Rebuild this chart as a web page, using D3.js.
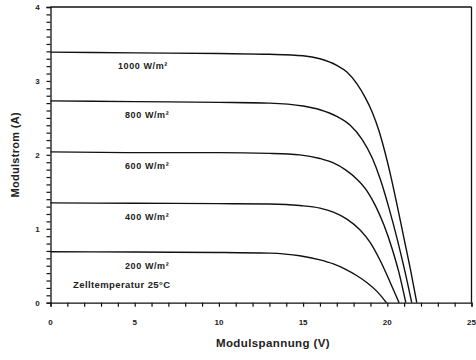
<!DOCTYPE html>
<html><head><meta charset="utf-8">
<script src="https://cdn.jsdelivr.net/npm/d3@7"></script>
<style>body{margin:0;background:#fff}svg{display:block}text{font-family:"Liberation Sans",Arial,sans-serif;fill:#222}</style>
</head><body>
<script>
const irradiance = ["1000 W/m²","800 W/m²","600 W/m²","400 W/m²","200 W/m²"];
const curve1000 = [[0,3.39],[5,3.38],[10,3.37],[13,3.36],[15,3.34],[16,3.30],[17,3.21],[17.6,3.12],[18.2,2.96],[18.7,2.77],[19.1,2.58],[19.5,2.33],[19.8,2.09],[20.2,1.72],[20.6,1.30],[21.0,0.86],[21.4,0.42],[21.75,0]];
const curve800 = [[0,2.73],[5,2.72],[10,2.71],[13,2.70],[15,2.66],[16,2.61],[17,2.52],[17.8,2.40],[18.5,2.21],[19.1,1.96],[19.6,1.66],[20.1,1.28],[20.6,0.85],[21.0,0.47],[21.45,0]];
const curve600 = [[0,2.04],[5,2.03],[10,2.03],[13,2.02],[14.8,2.0],[16,1.95],[16.8,1.89],[17.5,1.80],[18.2,1.67],[18.8,1.51],[19.3,1.31],[19.8,1.05],[20.3,0.72],[20.7,0.40],[21.1,0]];
const curve400 = [[0,1.35],[5,1.345],[10,1.34],[13,1.335],[14.8,1.315],[16,1.28],[16.8,1.225],[17.6,1.13],[18.4,0.98],[19.0,0.81],[19.6,0.56],[20.2,0.26],[20.7,0]];
const curve200 = [[0,0.69],[5,0.685],[10,0.68],[13,0.67],[14.8,0.635],[16,0.58],[16.8,0.525],[17.5,0.455],[18.2,0.365],[18.8,0.27],[19.4,0.15],[19.95,0]];
const curves = [curve1000, curve800, curve600, curve400, curve200];
const xTicks = [0,5,10,15,20,25];
const yTicks = [0,1,2,3,4];
const note = "Zelltemperatur 25°C";
const xTitle = "Modulspannung (V)";
const yTitle = "Modulstrom (A)";

const W = 476, H = 360;
const m = {l:50.5, r:4.5, t:7, b:57.3};
const svg = d3.select("body").append("svg").attr("width", W).attr("height", H);
const x = d3.scaleLinear().domain([0,25]).range([m.l, W-m.r]);
const y = d3.scaleLinear().domain([0,4]).range([H-m.b, m.t]);

svg.append("line").attr("x1",x(0)).attr("x2",x(25)).attr("y1",y(4)).attr("y2",y(4)).attr("stroke","#111").attr("stroke-width",1.3);
svg.append("line").attr("x1",x(25)).attr("x2",x(25)).attr("y1",y(4)).attr("y2",y(0)).attr("stroke","#111").attr("stroke-width",1.3);

const xa = svg.append("g").attr("transform",`translate(0,${y(0)})`)
  .call(d3.axisBottom(x).tickValues(d3.range(0,26,1)).tickSize(4).tickFormat(""));
const ya = svg.append("g").attr("transform",`translate(${x(0)},0)`)
  .call(d3.axisLeft(y).tickValues(d3.range(0,41,1).map(d=>d/10)).tickSize(4).tickFormat(""));
[xa,ya].forEach(g=>{g.select(".domain").attr("stroke","#111").attr("stroke-width",1.3);g.selectAll(".tick line").attr("stroke","#111").attr("stroke-width",1.2);});

svg.selectAll(".xl").data(xTicks).enter().append("text").attr("x",d=>x(d)).attr("y",y(0)+22)
  .attr("text-anchor","middle").attr("font-size",8).attr("font-weight","bold").text(d=>d);
svg.selectAll(".yl").data(yTicks).enter().append("text").attr("x",x(0)-13).attr("y",d=>y(d)+3)
  .attr("text-anchor","middle").attr("font-size",8).attr("font-weight","bold").text(d=>d);

const line = d3.line().x(d=>x(d[0])).y(d=>y(d[1])).curve(d3.curveMonotoneX);
svg.selectAll(".c").data(curves).enter().append("path").attr("d",line)
  .attr("fill","none").attr("stroke","#111").attr("stroke-width",1.4);

svg.selectAll(".lab").data(irradiance).enter().append("text")
  .attr("x",(d,i)=> i===0 ? 118 : 125)
  .attr("y",(d,i)=> y(curves[i][0][1]) + 17)
  .attr("font-size",9).attr("font-weight","bold").attr("letter-spacing",0.6).text(d=>d);

svg.append("text").attr("x",73).attr("y",288).attr("font-size",9.5).attr("font-weight","bold").attr("letter-spacing",0.4).text(note);
svg.append("text").attr("x",273).attr("y",347).attr("text-anchor","middle")
  .attr("font-size",11.5).attr("font-weight","bold").attr("letter-spacing",0.4).text(xTitle);
svg.append("text").attr("transform",`translate(19,${(y(0)+y(4))/2}) rotate(-90)`).attr("text-anchor","middle")
  .attr("font-size",11).attr("font-weight","bold").attr("letter-spacing",0.3).text(yTitle);
</script>
</body></html>
